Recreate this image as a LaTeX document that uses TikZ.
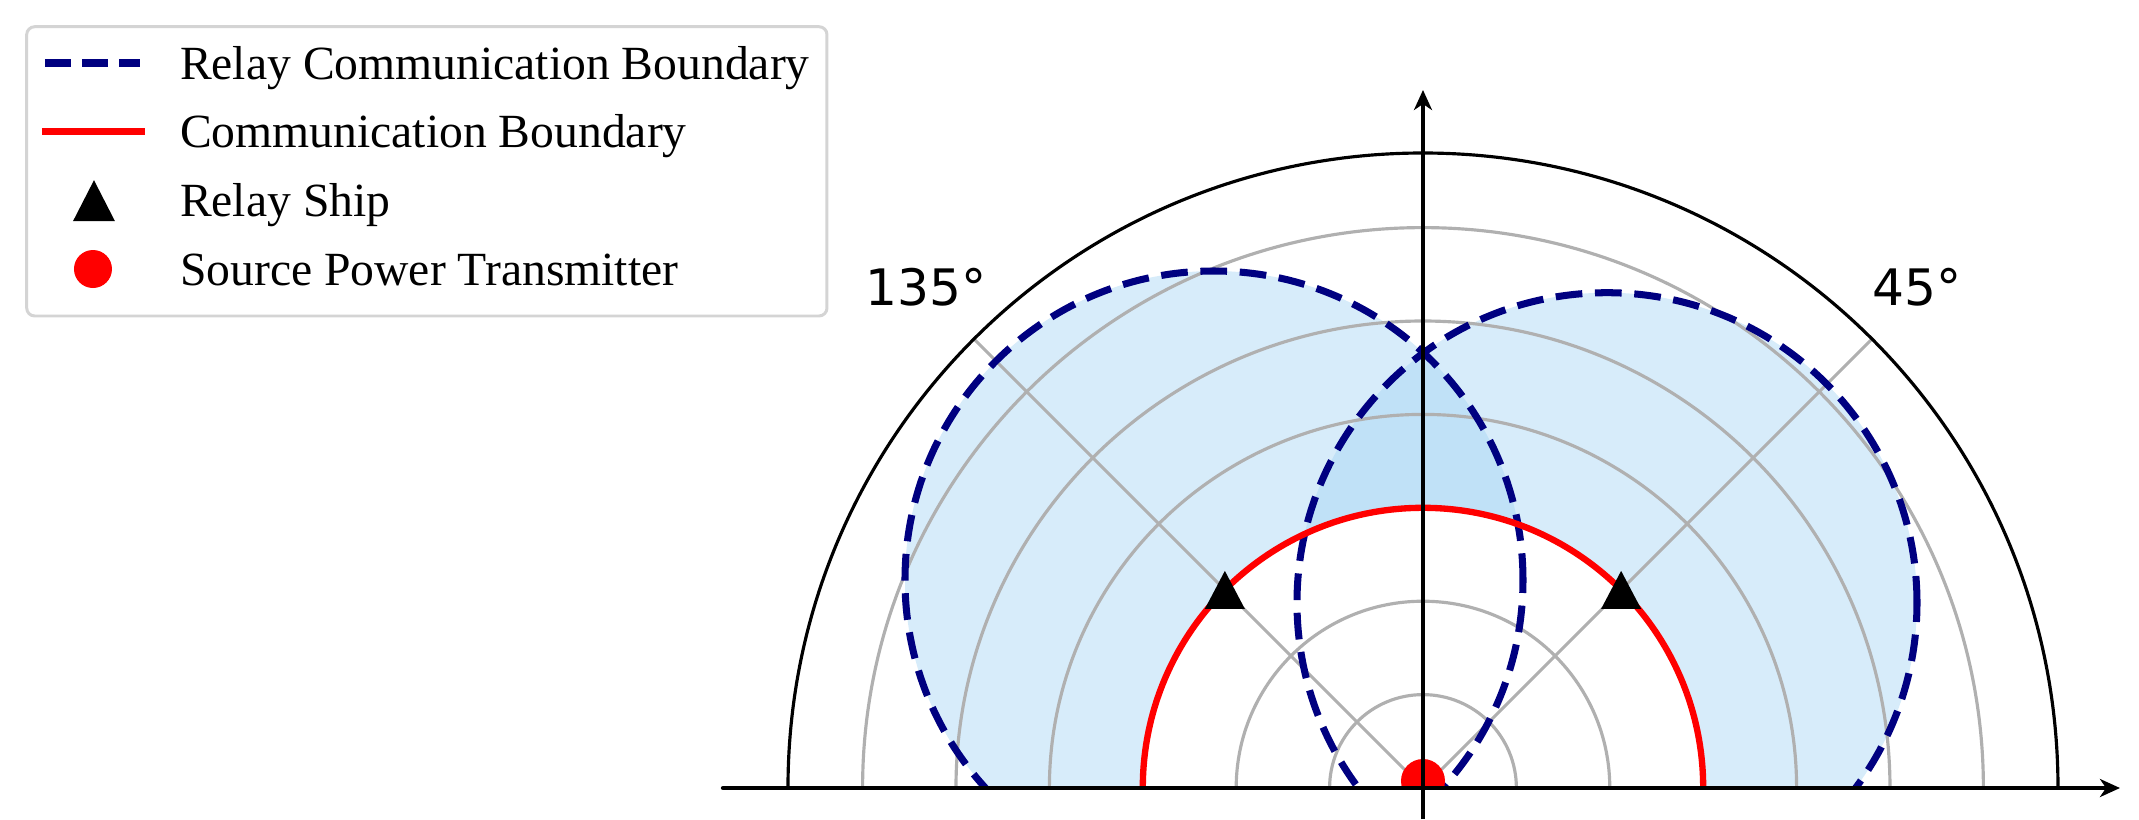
\documentclass[tikz,border=0pt]{standalone}
\usepackage{fontspec}
\setmainfont{Liberation Serif}
\newfontfamily\labelfont{DejaVu Sans}
\usetikzlibrary{arrows.meta}
\definecolor{relayblue}{RGB}{0,0,128}
\definecolor{gridgray}{RGB}{176,176,176}
\definecolor{fillblue}{RGB}{161,210,243}
\definecolor{legendedge}{RGB}{212,212,212}
\begin{document}
\begin{tikzpicture}[
  gridline/.style={draw=gridgray, line width=0.9pt},
  relayline/.style={draw=relayblue, line width=2pt, dash pattern=on 7.6pt off 3.6pt},
  commline/.style={draw=red, line width=1.8pt},
  relayfill/.style={fill=fillblue, fill opacity=0.425},
  axisline/.style={draw=black, line width=1.2pt, -{Stealth[length=2mm,width=1.8mm,inset=0.6mm]}},
  shipmark/.style={fill=black},
  legendtext/.style={anchor=base west, inner sep=0pt, font=\fontsize{13.55}{16}\selectfont},
  anglelabel/.style={inner sep=0pt, font=\labelfont\fontsize{14.3}{17}\selectfont},
]
\useasboundingbox (-14.23,-0.31) rectangle (7.16,7.88);

% key points
\coordinate (O) at (0,0);
\coordinate (C1) at (-2.09,2.08);
\coordinate (C2) at (1.84,1.853);
\coordinate (S1) at (135:2.802);
\coordinate (S2) at (45:2.802);

% relay coverage fills (outside the communication boundary)
\begin{scope}
  \clip (C1) circle (3.09);
  \fill[relayfill, even odd rule] (-7,0) rectangle (7,7) (2.802,0) arc (0:180:2.802) -- cycle;
\end{scope}
\begin{scope}
  \clip (C2) circle (3.10);
  \fill[relayfill, even odd rule] (-7,0) rectangle (7,7) (2.802,0) arc (0:180:2.802) -- cycle;
\end{scope}

% polar grid
\foreach \r in {0.934,1.868,2.802,3.736,4.67,5.604}
  \draw[gridline] (\r,0) arc (0:180:\r);
\draw[gridline] (O) -- (45:6.35);
\draw[gridline] (O) -- (135:6.35);

% relay communication boundaries
\begin{scope}
  \clip (-7,0) rectangle (7,7);
  \draw[relayline] (C1) circle (3.09);
  \draw[relayline] (C2) circle (3.10);
\end{scope}

% communication boundary
\draw[commline] (2.802,0) arc (0:180:2.802);

% outer frame
\draw[black, line width=0.9pt] (6.35,0) arc (0:180:6.35);

% relay ships
\fill[shipmark, shift={(S1)}] (-0.2,-0.19) -- (0.2,-0.19) -- (0,0.19) -- cycle;
\fill[shipmark, shift={(S2)}] (-0.2,-0.19) -- (0.2,-0.19) -- (0,0.19) -- cycle;

% source transmitter
\begin{scope}
  \clip (-7,0) rectangle (7,7);
  \fill[red] (0,0.07) circle (0.22);
\end{scope}

% axes
\coordinate (xs) at (-7.0,0);
\coordinate (xe) at (6.97,0);
\coordinate (ys) at (0,-0.31);
\coordinate (ye) at (0,6.98);
\draw[axisline, line cap=round] (xs) -- (xe);
\draw[axisline] (ys) -- (ye);

% angle labels
\node[anglelabel] (l135) at (-4.97,5.006) {135°};
\node[anglelabel] (l45) at (4.937,5.005) {45°};

% legend
\draw[legendedge, line width=0.85pt, fill=white, rounded corners=0.08cm] (-13.963,7.613) rectangle (-5.96,4.72);
\draw[relayline, dash pattern=on 7.4pt off 3.2pt] (-13.78,7.25) -- (-12.83,7.25);
\draw[commline, line width=2pt] (-13.81,6.567) -- (-12.78,6.567);
\fill[shipmark, shift={(-13.29,5.873)}] (-0.21,-0.205) -- (0.21,-0.205) -- (0,0.205) -- cycle;
\fill[red] (-13.30,5.19) circle (0.19);
\node[legendtext] (t1) at (-12.436,7.09) {Relay Communication Boundary};
\node[legendtext] (t2) at (-12.436,6.407) {Communication Boundary};
\node[legendtext] (t3) at (-12.436,5.713) {Relay Ship};
\node[legendtext] (t4) at (-12.436,5.03) {Source Power Transmitter};
\end{tikzpicture}
\end{document}
